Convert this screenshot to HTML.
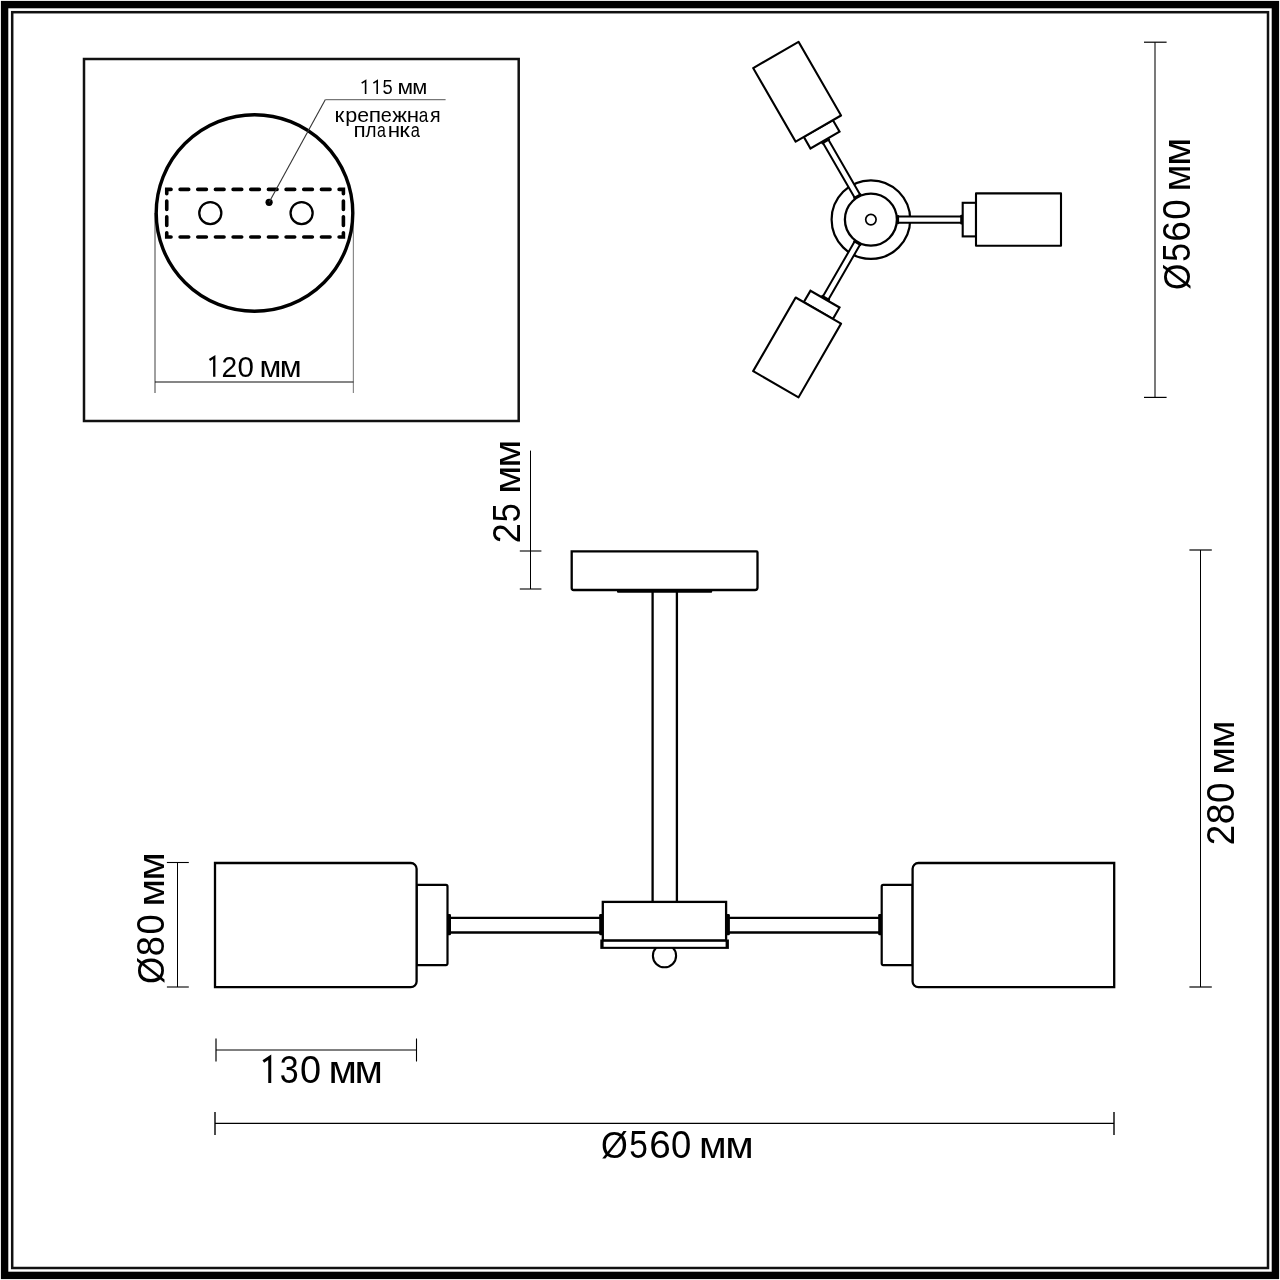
<!DOCTYPE html>
<html><head><meta charset="utf-8"><title>drawing</title>
<style>html,body{margin:0;padding:0;background:#fff;width:1280px;height:1280px;overflow:hidden}
svg{display:block;font-family:"Liberation Sans",sans-serif}</style></head>
<body><svg width="1280" height="1280" viewBox="0 0 1280 1280">
<rect width="1280" height="1280" fill="#fff"/>
<rect x="4.6" y="4.6" width="1270.8" height="1270.8" fill="none" stroke="#000" stroke-width="7.4"/>
<rect x="12.2" y="12.2" width="1255.8" height="1255.8" fill="none" stroke="#111" stroke-width="2.5"/>
<rect x="84" y="59" width="434.7" height="362" fill="none" stroke="#111" stroke-width="2.5"/>
<line x1="155" y1="213" x2="155" y2="393" stroke="#000" stroke-width="0.75"/>
<line x1="353.4" y1="213" x2="353.4" y2="393" stroke="#8a8a8a" stroke-width="1.2"/>
<line x1="155" y1="382" x2="353.4" y2="382" stroke="#000" stroke-width="0.95"/>
<circle cx="254.5" cy="213" r="98.3" fill="none" stroke="#000" stroke-width="3.4"/>
<path d="M180.11 189.4H188.72M197.78 189.4H206.38M215.44 189.4H224.05M233.11 189.4H241.71M250.77 189.4H259.38M268.44 189.4H277.04M286.10 189.4H294.70M303.77 189.4H312.37M321.44 189.4H330.04M180.11 237.0H188.72M197.78 237.0H206.38M215.44 237.0H224.05M233.11 237.0H241.71M250.77 237.0H259.38M268.44 237.0H277.04M286.10 237.0H294.70M303.77 237.0H312.37M321.44 237.0H330.04M166.75 200.97V209.57M166.75 216.83V225.43M343.4 200.97V209.57M343.4 216.83V225.43M166.75 193.70000000000002V189.4H171.05M339.09999999999997 189.4H343.4V193.70000000000002M166.75 232.7V237.0H171.05M339.09999999999997 237.0H343.4V232.7" fill="none" stroke="#000" stroke-width="3.6" stroke-linecap="round" stroke-linejoin="miter"/>
<circle cx="210.3" cy="213.1" r="11.05" fill="none" stroke="#000" stroke-width="2.3"/>
<circle cx="301.6" cy="213.1" r="11.05" fill="none" stroke="#000" stroke-width="2.3"/>
<circle cx="269.1" cy="202.3" r="3.6" fill="#000"/>
<polyline points="269.1,202.3 325.4,99.6" fill="none" stroke="#333" stroke-width="1.1"/>
<line x1="325.4" y1="99.6" x2="445.6" y2="99.6" stroke="#777" stroke-width="1.3"/>
<circle cx="870.9" cy="219.6" r="39.3" fill="none" stroke="#000" stroke-width="2.2"/>
<g transform="rotate(0 870.9 219.6)"><rect x="890.9" y="216.6" width="72" height="6" fill="#fff" stroke="none"/><path d="M890.9 216.45H962.6999999999999M890.9 222.75H962.6999999999999" stroke="#000" stroke-width="2"/><rect x="960.1999999999999" y="214.7" width="2.6" height="9.8" rx="1" fill="#000"/><rect x="896.9" y="215.0" width="2.2" height="9.2" rx="1" fill="#000"/><rect x="962.6999999999999" y="202.79999999999998" width="13.3" height="33.6" fill="#fff" stroke="#000" stroke-width="2.1"/><rect x="976.0" y="193.4" width="85" height="52.4" fill="#fff" stroke="#000" stroke-width="2.1" stroke-linejoin="round"/></g>
<g transform="rotate(120 870.9 219.6)"><rect x="890.9" y="216.6" width="72" height="6" fill="#fff" stroke="none"/><path d="M890.9 216.45H962.6999999999999M890.9 222.75H962.6999999999999" stroke="#000" stroke-width="2"/><rect x="960.1999999999999" y="214.7" width="2.6" height="9.8" rx="1" fill="#000"/><rect x="896.9" y="215.0" width="2.2" height="9.2" rx="1" fill="#000"/><rect x="962.6999999999999" y="202.79999999999998" width="13.3" height="33.6" fill="#fff" stroke="#000" stroke-width="2.1"/><rect x="976.0" y="193.4" width="85" height="52.4" fill="#fff" stroke="#000" stroke-width="2.1" stroke-linejoin="round"/></g>
<g transform="rotate(240 870.9 219.6)"><rect x="890.9" y="216.6" width="72" height="6" fill="#fff" stroke="none"/><path d="M890.9 216.45H962.6999999999999M890.9 222.75H962.6999999999999" stroke="#000" stroke-width="2"/><rect x="960.1999999999999" y="214.7" width="2.6" height="9.8" rx="1" fill="#000"/><rect x="896.9" y="215.0" width="2.2" height="9.2" rx="1" fill="#000"/><rect x="962.6999999999999" y="202.79999999999998" width="13.3" height="33.6" fill="#fff" stroke="#000" stroke-width="2.1"/><rect x="976.0" y="193.4" width="85" height="52.4" fill="#fff" stroke="#000" stroke-width="2.1" stroke-linejoin="round"/></g>
<circle cx="870.9" cy="219.6" r="26" fill="#fff" stroke="#000" stroke-width="2.3"/>
<circle cx="870.9" cy="219.6" r="5.2" fill="#fff" stroke="#000" stroke-width="1.7"/>
<line x1="1155" y1="42.2" x2="1155" y2="397.4" stroke="#000" stroke-width="1.05"/>
<line x1="1144" y1="42.2" x2="1166.6" y2="42.2" stroke="#000" stroke-width="1.2"/>
<line x1="1144" y1="397.4" x2="1166.6" y2="397.4" stroke="#000" stroke-width="1.2"/>
<line x1="530.5" y1="450.6" x2="530.5" y2="589" stroke="#000" stroke-width="1"/>
<line x1="519.8" y1="551" x2="541.4" y2="551" stroke="#000" stroke-width="1.1"/>
<line x1="519.8" y1="589" x2="541.4" y2="589" stroke="#000" stroke-width="1.1"/>
<path d="M571.7 551.4H756.5A1 1 0 0 1 757.5 552.4V587.5A2.5 2.5 0 0 1 755.0 590.0H573.7A2 2 0 0 1 571.7 588.0V551.4Z" fill="#fff" stroke="#000" stroke-width="2.3"/>
<rect x="617" y="589" width="95.2" height="3.7" rx="1" fill="#000"/>
<path d="M652.6 592V902M676.9 592V902" stroke="#000" stroke-width="2.3"/>
<path d="M449 917.8H601M449 932.5H601M728 917.8H880M728 932.5H880" stroke="#000" stroke-width="2.3"/>
<circle cx="664.5" cy="955.7" r="11.6" fill="#fff" stroke="#000" stroke-width="2.1"/>
<rect x="602.8" y="901.9" width="123.3" height="38.7" fill="#fff" stroke="#000" stroke-width="2.3"/>
<rect x="600.3" y="939.5" width="128.6" height="9.4" fill="#000"/>
<rect x="603.6" y="941.8" width="122.0" height="5.0" fill="#fff"/>
<rect x="599.2" y="913.9" width="3.8" height="21.4" rx="1.3" fill="#000"/>
<rect x="725.9" y="913.9" width="4.0" height="21.4" rx="1.3" fill="#000"/>
<rect x="447.0" y="913.9" width="4.0" height="21.4" rx="1.3" fill="#000"/>
<rect x="878.2" y="913.9" width="4.0" height="21.4" rx="1.3" fill="#000"/>
<path d="M416.6 884.9H446.0A1.5 1.5 0 0 1 447.5 886.4V963.6A1.5 1.5 0 0 1 446.0 965.1H416.6V884.9Z" fill="#fff" stroke="#000" stroke-width="2.2"/>
<path d="M215.0 863.0H410.8A5.8 5.8 0 0 1 416.6 868.8V981.4000000000001A5.8 5.8 0 0 1 410.8 987.2H215.0V863.0Z" fill="#fff" stroke="#000" stroke-width="2.3"/>
<path d="M883.2 884.9H912.6V965.1H883.2A1.5 1.5 0 0 1 881.7 963.6V886.4A1.5 1.5 0 0 1 883.2 884.9Z" fill="#fff" stroke="#000" stroke-width="2.2"/>
<path d="M918.4 863.0H1114.2V987.2H918.4A5.8 5.8 0 0 1 912.6 981.4000000000001V868.8A5.8 5.8 0 0 1 918.4 863.0Z" fill="#fff" stroke="#000" stroke-width="2.3"/>
<line x1="177.5" y1="862.5" x2="177.5" y2="987" stroke="#000" stroke-width="1"/>
<line x1="166.9" y1="862.5" x2="188.8" y2="862.5" stroke="#000" stroke-width="1.1"/>
<line x1="166.9" y1="987" x2="188.8" y2="987" stroke="#000" stroke-width="1.1"/>
<line x1="1200.5" y1="550" x2="1200.5" y2="987" stroke="#000" stroke-width="1"/>
<line x1="1189.4" y1="550" x2="1211.8" y2="550" stroke="#000" stroke-width="1.2"/>
<line x1="1189.4" y1="987" x2="1211.8" y2="987" stroke="#000" stroke-width="1.2"/>
<line x1="216" y1="1050" x2="416.5" y2="1050" stroke="#000" stroke-width="1"/>
<line x1="216" y1="1038.5" x2="216" y2="1061.5" stroke="#000" stroke-width="1.2"/>
<line x1="416.5" y1="1038.5" x2="416.5" y2="1061.5" stroke="#000" stroke-width="1.1"/>
<line x1="215" y1="1123.4" x2="1114" y2="1123.4" stroke="#000" stroke-width="1.3"/>
<line x1="215" y1="1112" x2="215" y2="1135" stroke="#000" stroke-width="1.4"/>
<line x1="1114" y1="1112" x2="1114" y2="1135" stroke="#000" stroke-width="1.4"/>
<g fill="#000" style="filter:grayscale(1)">
<path d="M361.66 83.14L365.60 80.62V94.00" fill="none" stroke="#000" stroke-width="1.6" stroke-linejoin="miter" stroke-miterlimit="3"/>
<path d="M373.36 83.08L377.20 80.62V94.00" fill="none" stroke="#000" stroke-width="1.6" stroke-linejoin="miter" stroke-miterlimit="3"/>
<text transform="translate(382.57 94.00) scale(0.896 1)" font-size="20.43">5</text>
<text transform="translate(397.51 94.00) scale(1.095 1)" font-size="20.75">м</text>
<text transform="translate(412.22 94.00) scale(1.056 1)" font-size="20.75">м</text>
<text transform="translate(334.44 121.70) scale(1.110 1)" font-size="20.19">к</text>
<text transform="translate(345.30 121.70) scale(1.078 1)" font-size="20.00">р</text>
<text transform="translate(357.34 121.70) scale(1.074 1)" font-size="19.81">е</text>
<text transform="translate(368.71 121.70) scale(1.127 1)" font-size="20.19">п</text>
<text transform="translate(380.85 121.70) scale(1.004 1)" font-size="19.81">е</text>
<text transform="translate(392.14 121.70) scale(1.088 1)" font-size="20.19">ж</text>
<text transform="translate(406.69 121.70) scale(1.104 1)" font-size="20.19">н</text>
<text transform="translate(418.73 121.70) scale(0.866 1)" font-size="19.81">а</text>
<text transform="translate(430.05 121.70) scale(0.969 1)" font-size="20.19">я</text>
<text transform="translate(353.53 137.20) scale(1.114 1)" font-size="20.19">п</text>
<text transform="translate(365.41 137.20) scale(0.932 1)" font-size="20.19">л</text>
<text transform="translate(376.88 137.20) scale(0.806 1)" font-size="19.81">а</text>
<text transform="translate(387.83 137.20) scale(1.110 1)" font-size="20.19">н</text>
<text transform="translate(399.34 137.20) scale(1.189 1)" font-size="20.19">к</text>
<text transform="translate(410.86 137.20) scale(0.831 1)" font-size="19.81">а</text>
<path d="M209.50 360.09L214.25 357.04V376.80" fill="none" stroke="#000" stroke-width="2.3" stroke-linejoin="miter" stroke-miterlimit="3"/>
<text transform="translate(221.49 376.80) scale(0.947 1)" font-size="29.71">2</text>
<text transform="translate(237.52 376.80) scale(0.995 1)" font-size="29.71">0</text>
<text transform="translate(259.58 376.80) scale(1.092 1)" font-size="29.06">м</text>
<text transform="translate(279.67 376.80) scale(1.095 1)" font-size="29.06">м</text>
<path d="M263.30 1061.40L269.75 1057.25V1083.00" fill="none" stroke="#000" stroke-width="3.0" stroke-linejoin="miter" stroke-miterlimit="3"/>
<text transform="translate(279.64 1083.00) scale(0.879 1)" font-size="38.71">3</text>
<text transform="translate(299.98 1083.00) scale(0.979 1)" font-size="38.71">0</text>
<text transform="translate(328.60 1083.00) scale(1.083 1)" font-size="38.21">м</text>
<text transform="translate(354.60 1083.00) scale(1.083 1)" font-size="38.21">м</text>
<text transform="translate(600.89 1157.50) scale(0.926 1)" font-size="37.20">Ø</text>
<text transform="translate(629.16 1157.50) scale(0.868 1)" font-size="38.55">5</text>
<text transform="translate(649.17 1157.50) scale(1.018 1)" font-size="38.00">6</text>
<text transform="translate(670.94 1157.50) scale(0.958 1)" font-size="38.00">0</text>
<text transform="translate(699.09 1157.50) scale(1.081 1)" font-size="37.17">м</text>
<text transform="translate(725.20 1157.50) scale(1.115 1)" font-size="37.17">м</text>
<text transform="translate(1190.20 289.99) rotate(-90) scale(0.898 1)" font-size="37.76">Ø</text>
<text transform="translate(1190.20 261.84) rotate(-90) scale(0.855 1)" font-size="39.13">5</text>
<text transform="translate(1190.20 241.66) rotate(-90) scale(0.964 1)" font-size="38.57">6</text>
<text transform="translate(1190.20 219.77) rotate(-90) scale(0.955 1)" font-size="38.57">0</text>
<text transform="translate(1190.20 191.55) rotate(-90) scale(1.030 1)" font-size="38.11">м</text>
<text transform="translate(1190.20 165.65) rotate(-90) scale(1.069 1)" font-size="38.11">м</text>
<text transform="translate(519.70 543.30) rotate(-90) scale(0.934 1)" font-size="38.57">2</text>
<text transform="translate(519.70 522.16) rotate(-90) scale(0.872 1)" font-size="39.13">5</text>
<text transform="translate(519.70 493.86) rotate(-90) scale(1.101 1)" font-size="37.17">м</text>
<text transform="translate(519.70 467.53) rotate(-90) scale(1.088 1)" font-size="37.17">м</text>
<text transform="translate(164.10 983.92) rotate(-90) scale(0.927 1)" font-size="37.62">Ø</text>
<text transform="translate(164.10 956.13) rotate(-90) scale(0.941 1)" font-size="38.43">8</text>
<text transform="translate(164.10 934.55) rotate(-90) scale(0.942 1)" font-size="38.43">0</text>
<text transform="translate(164.10 906.39) rotate(-90) scale(1.088 1)" font-size="36.60">м</text>
<text transform="translate(164.10 880.58) rotate(-90) scale(1.123 1)" font-size="36.60">м</text>
<text transform="translate(1233.60 845.34) rotate(-90) scale(0.952 1)" font-size="38.57">2</text>
<text transform="translate(1233.60 824.18) rotate(-90) scale(0.965 1)" font-size="38.57">8</text>
<text transform="translate(1233.60 802.97) rotate(-90) scale(0.955 1)" font-size="38.57">0</text>
<text transform="translate(1233.60 774.64) rotate(-90) scale(1.096 1)" font-size="36.98">м</text>
<text transform="translate(1233.60 748.34) rotate(-90) scale(1.096 1)" font-size="36.98">м</text>
</g>
</svg></body></html>
